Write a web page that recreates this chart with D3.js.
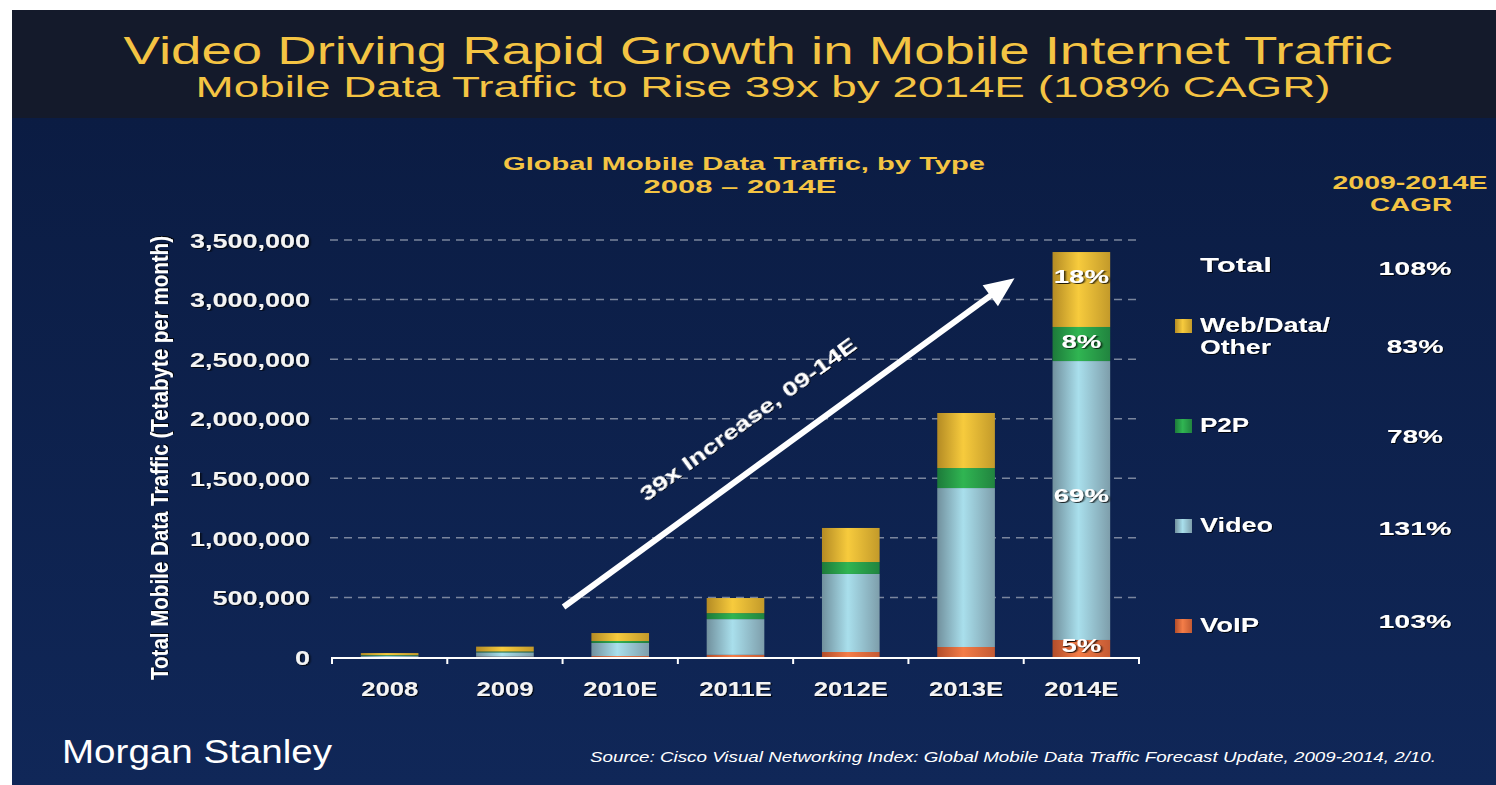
<!DOCTYPE html>
<html><head><meta charset="utf-8">
<script src="https://cdn.jsdelivr.net/npm/d3@7"></script>
<style>html,body{margin:0;padding:0;background:#fff;overflow:hidden}</style>
</head><body>
<svg id="c" width="1496" height="785"></svg>
<script>
// ---------------- data ----------------
const categories = ["2008", "2009", "2010E", "2011E", "2012E", "2013E", "2014E"];
const voip  = [1000, 3000, 8000, 18000, 42000, 84000, 143000];
const video = [10000, 36000, 110000, 300000, 655000, 1334000, 2341000];
const p2p   = [5000, 7000, 16000, 50000, 100000, 168000, 286000];
const web   = [17000, 41000, 67000, 127000, 286000, 462000, 629000];
const seriesKeys = ["voip", "video", "p2p", "web"];
const yTicks = [0, 500000, 1000000, 1500000, 2000000, 2500000, 3000000, 3500000];
const legendItems = ["web", "p2p", "video", "voip"];
const legendLabels = [["Web/Data/", "Other"], ["P2P"], ["Video"], ["VoIP"]];
const cagrTotal = "108%";
const cagrValues = ["83%", "78%", "131%", "103%"];
const barLabels2014 = ["5%", "69%", "8%", "18%"]; // voip, video, p2p, web
const arrowStart = { cat: "2010E", value: 420000 };
const arrowEnd = { cat: "2014E", value: 3180000 };

// ---------------- setup ----------------
const FONT = "'Liberation Sans', Arial, Helvetica, sans-serif";
const GOLD = "#f4c443";
const svg = d3.select("#c");
const defs = svg.append("defs");

const bodyGrad = defs.append("linearGradient").attr("id", "bodyG").attr("x1", 0).attr("x2", 0).attr("y1", 0).attr("y2", 1);
bodyGrad.append("stop").attr("offset", 0).attr("stop-color", "#0b1c43");
bodyGrad.append("stop").attr("offset", 1).attr("stop-color", "#102758");

const sh = defs.append("filter").attr("id", "sh").attr("x", "-10%").attr("y", "-20%").attr("width", "130%").attr("height", "150%");
sh.append("feDropShadow").attr("dx", 1).attr("dy", 1).attr("stdDeviation", 0.6).attr("flood-color", "#000").attr("flood-opacity", 0.85);

const colors = {
  voip:  ["#b24d2a", "#f47d48", "#c45a33"],
  video: ["#71909d", "#a9dfec", "#7e9eab"],
  p2p:   ["#1d7a3a", "#30b552", "#21843f"],
  web:   ["#b48b24", "#f7cb3d", "#c39a2a"]
};
seriesKeys.forEach(k => {
  const g = defs.append("linearGradient").attr("id", "g_" + k).attr("x1", 0).attr("x2", 1).attr("y1", 0).attr("y2", 0);
  g.append("stop").attr("offset", 0).attr("stop-color", colors[k][0]);
  g.append("stop").attr("offset", 0.45).attr("stop-color", colors[k][1]);
  g.append("stop").attr("offset", 1).attr("stop-color", colors[k][2]);
});

// background
svg.append("rect").attr("width", 1496).attr("height", 785).attr("fill", "#fff");
svg.append("rect").attr("x", 12).attr("y", 118).attr("width", 1484).attr("height", 667).attr("fill", "url(#bodyG)");
svg.append("rect").attr("x", 12).attr("y", 10).attr("width", 1484).attr("height", 108).attr("fill", "#141a2b");

function T(parent, o) {
  const t = parent.append("text")
    .attr("x", o.x).attr("y", o.y).text(o.t)
    .attr("font-size", o.s).attr("font-weight", o.w || "bold")
    .attr("font-style", o.it ? "italic" : "normal")
    .attr("fill", o.f || "#fff").attr("text-anchor", o.a || "start")
    .attr("font-family", o.ff || FONT);
  if (o.len) t.attr("textLength", o.len).attr("lengthAdjust", "spacingAndGlyphs");
  if (o.sh) t.attr("filter", "url(#sh)");
  return t;
}

// titles
T(svg, { x: 758, y: 64, t: "Video Driving Rapid Growth in Mobile Internet Traffic", s: 38, w: "normal", f: GOLD, a: "middle", len: 1269 });
T(svg, { x: 763, y: 97, t: "Mobile Data Traffic to Rise 39x by 2014E (108% CAGR)", s: 29, w: "normal", f: GOLD, a: "middle", len: 1135 });
T(svg, { x: 744, y: 170, t: "Global Mobile Data Traffic, by Type", s: 19, f: GOLD, a: "middle", len: 482 });
T(svg, { x: 740, y: 193, t: "2008 \u2013 2014E", s: 19, f: GOLD, a: "middle", len: 193 });
T(svg, { x: 1410, y: 189, t: "2009-2014E", s: 19, f: GOLD, a: "middle", len: 155 });
T(svg, { x: 1411, y: 211, t: "CAGR", s: 19, f: GOLD, a: "middle", len: 82 });

// scales
const y = d3.scaleLinear().domain([0, 3500000]).range([657, 240]);
const x = d3.scaleBand().domain(categories).range([332, 1139]).paddingInner(0.5).paddingOuter(0.25);

// grid
svg.append("g").selectAll("line").data(yTicks.filter(d => d > 0)).join("line")
  .attr("x1", 330).attr("x2", 1141)
  .attr("y1", d => y(d)).attr("y2", d => y(d))
  .attr("stroke", "#8d97ab").attr("stroke-width", 1.5).attr("stroke-dasharray", "8,6").attr("opacity", 0.85);

// y axis labels
const yAxis = svg.append("g").attr("transform", "translate(310,0)")
  .call(d3.axisLeft(y).tickValues(yTicks).tickSize(0).tickPadding(0).tickFormat(d3.format(",")));
yAxis.select(".domain").remove();
yAxis.selectAll("text").attr("font-size", 20).attr("font-weight", "bold").attr("font-family", FONT)
  .attr("fill", "#f4f4f4").attr("dy", "0.36em").attr("x", 0).attr("transform", "scale(1.35,1)").attr("filter", "url(#sh)");

// y title
T(svg, { x: 0, y: 0, t: "Total Mobile Data Traffic (Tetabyte per month)", s: 24, a: "middle", len: 444, sh: true })
  .attr("transform", "translate(168,458) rotate(-90)");

// stacked bars
const rows = categories.map((c, i) => ({ cat: c, voip: voip[i], video: video[i], p2p: p2p[i], web: web[i] }));
const stacked = d3.stack().keys(seriesKeys)(rows);
svg.append("g").selectAll("g").data(stacked).join("g")
  .attr("fill", s => "url(#g_" + s.key + ")")
  .selectAll("rect").data(s => s).join("rect")
  .attr("x", d => x(d.data.cat)).attr("width", x.bandwidth())
  .attr("y", d => y(d[1])).attr("height", d => Math.max(0, y(d[0]) - y(d[1])));

// x axis
const step = x.step();
const boundaries = categories.map(c => x(c) - step * x.paddingInner() / 2).concat([x(categories[categories.length - 1]) + x.bandwidth() + step * x.paddingInner() / 2]);
svg.append("line").attr("x1", boundaries[0]).attr("x2", boundaries[boundaries.length - 1])
  .attr("y1", y(0) + 1).attr("y2", y(0) + 1).attr("stroke", "#fff").attr("stroke-width", 2);
svg.append("g").selectAll("line").data(boundaries).join("line")
  .attr("x1", d => d).attr("x2", d => d).attr("y1", y(0)).attr("y2", y(0) + 7)
  .attr("stroke", "#fff").attr("stroke-width", 2);
const xAxis = svg.append("g").attr("transform", "translate(0,682)")
  .call(d3.axisBottom(x).tickSize(0).tickPadding(0));
xAxis.select(".domain").remove();
xAxis.selectAll("text").attr("font-size", 20).attr("font-weight", "bold").attr("font-family", FONT)
  .attr("fill", "#f4f4f4").attr("dy", "0.72em").attr("transform", "scale(1.28,1)").attr("filter", "url(#sh)");

// labels on 2014E bar
const last = categories.length - 1;
const cx = x(categories[last]) + x.bandwidth() / 2;
const lblG = svg.append("g");
stacked.forEach((s, i) => {
  const d = s[last];
  let yy;
  if (s.key === "web") yy = y(d[1]) + 31;
  else if (s.key === "voip") yy = y(d[0]) - 5;
  else if (s.key === "video") yy = (y(d[0]) + y(d[1])) / 2 + 1;
  else yy = (y(d[0]) + y(d[1])) / 2 + 4;
  T(lblG, { x: 0, y: 0, t: barLabels2014[i], s: 19, a: "middle", sh: true })
    .attr("transform", `translate(${cx},${yy}) scale(1.45,1)`);
});

// arrow annotation
const ax1 = x(arrowStart.cat) - step * x.paddingInner() / 2 + 1, ay1 = y(arrowStart.value);
const ax2 = x(arrowEnd.cat) - 38, ay2 = y(arrowEnd.value);
const dx = ax2 - ax1, dy = ay2 - ay1, L = Math.hypot(dx, dy);
const ux = dx / L, uy = dy / L, nx = -uy, ny = ux;
const HL = 30, HW = 13;
const bx = ax2 - HL * ux, by = ay2 - HL * uy;
svg.append("line").attr("x1", ax1).attr("y1", ay1).attr("x2", bx + 2 * ux).attr("y2", by + 2 * uy)
  .attr("stroke", "#fff").attr("stroke-width", 6).attr("stroke-linecap", "butt");
svg.append("polygon")
  .attr("points", [[ax2, ay2], [bx + HW * nx, by + HW * ny], [bx - HW * nx, by - HW * ny]].map(p => p.join(",")).join(" "))
  .attr("fill", "#fff");
const ang = Math.atan2(dy, dx) * 180 / Math.PI;
const tcx = ax1 + dx * 0.465 - 36 * nx, tcy = ay1 + dy * 0.465 - 36 * ny;
T(svg, { x: 0, y: 0, t: "39x Increase, 09-14E", s: 21, a: "middle", len: 262, sh: true })
  .attr("transform", `translate(${tcx},${tcy}) rotate(${ang})`);

// legend
const leg = svg.append("g");
T(leg, { x: 1200, y: 272, t: "Total", s: 21, len: 72, sh: true });
T(leg, { x: 1415, y: 275, t: cagrTotal, s: 19, a: "middle", len: 73, sh: true });
const legW = [[130, 71], [49], [73], [59]];
const cagrW = [57, 56, 73, 73];
const cagrY = [353, 443, 535, 628];
legendItems.forEach((k, i) => {
  const top = 319 + i * 100;
  leg.append("rect").attr("x", 1175).attr("y", top).attr("width", 17).attr("height", 14).attr("fill", "url(#g_" + k + ")");
  legendLabels[i].forEach((line, j) => {
    T(leg, { x: 1200, y: top + 13 + j * 22, t: line, s: 21, len: legW[i][j], sh: true });
  });
  T(leg, { x: 1415, y: cagrY[i], t: cagrValues[i], s: 19, a: "middle", len: cagrW[i], sh: true });
});

// footer
T(svg, { x: 62, y: 763, t: "Morgan Stanley", s: 34, w: "normal", len: 270 });
T(svg, { x: 590, y: 762, t: "Source: Cisco Visual Networking Index: Global Mobile Data Traffic Forecast Update, 2009-2014, 2/10.", s: 14, w: "normal", it: true, len: 846 });
</script>
</body></html>
